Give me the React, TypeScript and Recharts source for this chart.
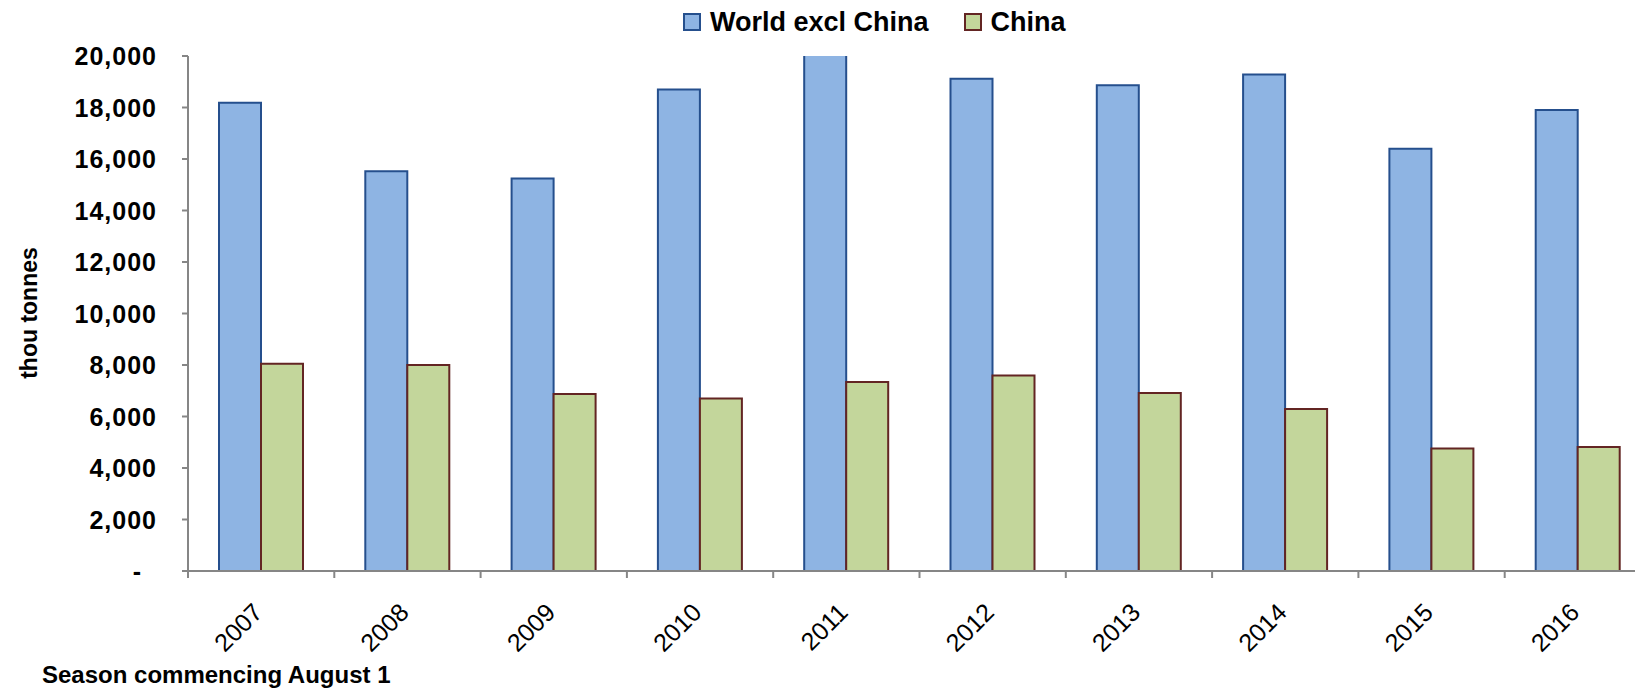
import { BarChart, Bar, XAxis, YAxis, Legend } from 'recharts';

const seasons = ['2007', '2008', '2009', '2010', '2011', '2012', '2013', '2014', '2015', '2016'];
const worldExclChina = [18180, 15520, 15240, 18700, 20400, 19120, 18860, 19280, 16400, 17900];
const china = [8050, 8000, 6870, 6700, 7340, 7590, 6910, 6290, 4760, 4820];
const yTicks = [0, 2000, 4000, 6000, 8000, 10000, 12000, 14000, 16000, 18000, 20000];

const FONT = '"Liberation Sans", Arial, sans-serif';
const BLUE = '#8EB4E3';
const BLUE_EDGE = '#254F8D';
const GREEN = '#C3D69B';
const GREEN_EDGE = '#632523';
const AXIS = '#868686';

const data = seasons.map((season, i) => ({
  season,
  world: worldExclChina[i],
  china: china[i],
}));

const fmt = (v: number) => (v === 0 ? '-' : v.toLocaleString('en-US'));

const YTick = ({ x, y, payload }: any) => (
  <text
    x={payload.value === 0 ? x - 15 : x}
    y={y}
    textAnchor="end"
    dominantBaseline="central"
    fontFamily={FONT}
    fontSize={25}
    fontWeight={700}
    letterSpacing={1}
    fill="#000"
  >
    {fmt(payload.value)}
  </text>
);

const XTick = ({ x, y, payload }: any) => {
  const half = payload.offset ?? 73;
  return (
    <g>
      <line x1={x - half} x2={x - half} y1={y} y2={y + 7} stroke={AXIS} strokeWidth={2} />
      <g transform={`translate(${x + 3},${y + 43})`}>
        <text
          x={0}
          y={0}
          textAnchor="end"
          transform="rotate(-45)"
          fontFamily={FONT}
          fontSize={25}
          fill="#000"
        >
          {payload.value}
        </text>
      </g>
    </g>
  );
};

const legendItems = [
  { name: 'World excl China', fill: BLUE, edge: BLUE_EDGE },
  { name: 'China', fill: GREEN, edge: GREEN_EDGE },
];

const LegendContent = () => (
  <div
    style={{
      display: 'flex',
      alignItems: 'center',
      height: 44,
      paddingLeft: 683,
      fontFamily: FONT,
      fontSize: 27,
      fontWeight: 700,
      color: '#000',
    }}
  >
    {legendItems.map((item, i) => (
      <div key={item.name} style={{ display: 'flex', alignItems: 'center', marginRight: i === 0 ? 35 : 0 }}>
        <span
          style={{
            display: 'inline-block',
            width: 14,
            height: 14,
            background: item.fill,
            border: `2px solid ${item.edge}`,
            marginRight: 9,
          }}
        />
        <span>{item.name}</span>
      </div>
    ))}
  </div>
);

export default function App() {
  return (
    <div
      style={{
        position: 'absolute',
        left: 0,
        top: 0,
        width: 1635,
        height: 690,
        overflow: 'hidden',
        background: '#fff',
      }}
    >
      <BarChart
        width={1651}
        height={690}
        data={data}
        margin={{ top: 12, right: 0, left: 0, bottom: 0 }}
        barGap={0}
        barSize={42}
      >
        <Legend
          verticalAlign="top"
          align="left"
          content={<LegendContent />}
          wrapperStyle={{ left: 0, top: 0, width: 1635, height: 44 }}
        />
        <XAxis
          dataKey="season"
          height={119}
          axisLine={{ stroke: AXIS, strokeWidth: 2 }}
          tickLine={false}
          tickSize={0}
          tickMargin={0}
          interval={0}
          tick={<XTick />}
          label={{
            content: () => (
              <text x={42} y={683} fontFamily={FONT} fontSize={24} fontWeight={700} fill="#000">
                Season commencing August 1
              </text>
            ),
          }}
        />
        <YAxis
          width={188}
          domain={[0, 20000]}
          ticks={yTicks}
          interval={0}
          allowDataOverflow
          axisLine={{ stroke: AXIS, strokeWidth: 2 }}
          tickLine={{ stroke: AXIS, strokeWidth: 2 }}
          tickSize={6}
          tickMargin={25}
          tick={<YTick />}
          label={{
            content: () => (
              <text
                x={29}
                y={313}
                transform="rotate(-90 29 313)"
                textAnchor="middle"
                dominantBaseline="central"
                fontFamily={FONT}
                fontSize={23}
                fontWeight={700}
                fill="#000"
              >
                thou tonnes
              </text>
            ),
          }}
        />
        <Bar dataKey="world" name="World excl China" fill={BLUE} stroke={BLUE_EDGE} strokeWidth={2} isAnimationActive={false} />
        <Bar dataKey="china" name="China" fill={GREEN} stroke={GREEN_EDGE} strokeWidth={2} isAnimationActive={false} />
      </BarChart>
    </div>
  );
}
